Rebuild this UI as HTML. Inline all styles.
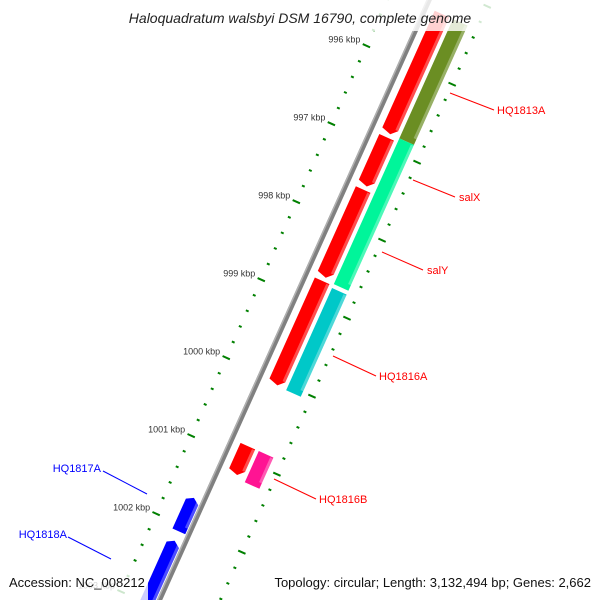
<!DOCTYPE html>
<html><head><meta charset="utf-8"><style>
html,body{margin:0;background:#fff;overflow:hidden;width:600px;height:600px}
svg{display:block;overflow:hidden;font-family:"Liberation Sans","DejaVu Sans",sans-serif}
</style></head><body>
<svg id="map" width="600" height="600" viewBox="0 0 600 600">
<g id="rot" transform="translate(433,0) rotate(24.2)"></g>
<g id="over"></g>
</svg>
<script>
// data
const tickKbp=[995,996,997,998,999,1000,1001,1002,1003];
const tickLabels=["995 kbp","996 kbp","997 kbp","998 kbp","999 kbp","1000 kbp","1001 kbp","1002 kbp","1003 kbp"];
const geneNames=["HQ1813A-r","g2","g3","g4","g5","HQ1813A","salX","HQ1816A","HQ1816B","HQ1817A","HQ1818A"];
const geneStart=[995.3,996.88,997.55,998.72,1000.84,995.3,996.83,998.75,1000.84,1001.65,1002.2];
const geneEnd=[996.83,997.5,998.67,1000.05,1001.2,996.83,998.7,1000.06,1001.24,1002.08,1003.2];
const geneTrack=[1,1,1,1,1,2,2,2,2,-1,-1];
const geneStrand=[1,1,1,1,1,0,0,0,0,-1,-1];
const geneColors=["#ff0000","#ff0000","#ff0000","#ff0000","#ff0000","#6b8e23","#00f59a","#00c8c8","#ff1493","#0000ff","#0000ff"];

const NS="http://www.w3.org/2000/svg";
const G=document.getElementById('rot');
function S(k){return 69+(k-996)*85.5;}
function mk(tag,attrs,parent){const e=document.createElementNS(NS,tag);for(const a in attrs)e.setAttribute(a,attrs[a]);(parent||G).appendChild(e);return e;}
const th=24.2*Math.PI/180;
function scr(k,n){const s=S(k);return [433+n*Math.cos(th)-s*Math.sin(th), n*Math.sin(th)+s*Math.cos(th)];}

let bb=mk('rect',{x:-6,y:-60,width:5,height:740,fill:'#808080'});


let bb2=mk('rect',{x:-6,y:-60,width:1.5,height:740,fill:'#b0b0b0'});



for(let k=994;k<=1004.01;k+=0.2){
  const kk=Math.round(k*5)/5;
  const major=Math.abs(kk-Math.round(kk))<0.01;
  [-42,52].forEach(n=>{
    const r=mk('rect',{x:major?n-4:n-1.5,y:S(kk)-1,width:major?8:3,height:2,fill:'#008000'});
    
    
  });
}
const trackX={1:[6,22],2:[26,42],'-1':[-21,-7]};
geneStart.forEach((st,i)=>{
  const [x0,x1]=trackX[geneTrack[i]];
  const y0=S(st),y1=S(geneEnd[i]);
  let pts;
  if(geneStrand[i]===1){pts=[[x0,y0],[x1,y0],[x1,y1-6],[(x0+x1)/2+2,y1],[x0,y1-3]];}
  else if(geneStrand[i]===-1){pts=[[x0,y1],[x0,y0+4],[(x0+x1)/2,y0],[x1,y0+5],[x1,y1]];}
  else{pts=[[x0,y0],[x1,y0],[x1,y1],[x0,y1]];}
  const p=mk('polygon',{points:pts.map(q=>q.join(',')).join(' '),fill:geneColors[i]});
  
  
  const sh=mk('rect',{x:x1-3,y:y0+1,width:3,height:Math.max(0,y1-y0-7),fill:'#ffffff',opacity:0.3});
  
  
});

const O=document.getElementById('over');
tickKbp.forEach((k,i)=>{
  const [x,y]=scr(k,-42);
  const t=mk('text',{x:x-6,y:y-3,'font-size':9,'text-anchor':'end',fill:'#333'},O);
  t.textContent=tickLabels[i];
  
  
});
const labels=[["HQ1813A",450,93,494,110,497,114,"#ff0000","start"],["salX",413,180,455,197,459,201,"#ff0000","start"],["salY",382,252,423,270,427,274,"#ff0000","start"],["HQ1816A",333,356,376,376,379,380,"#ff0000","start"],["HQ1816B",274,479,316,499,319,503,"#ff0000","start"],["HQ1817A",147,494,103,471,101,472,"#0000ff","end"],["HQ1818A",111,559,68,537,67,538,"#0000ff","end"]];
labels.forEach(l=>{
  const ln=mk('line',{x1:l[1],y1:l[2],x2:l[3],y2:l[4],stroke:l[7],'stroke-width':1},O);
  
  
  const t=mk('text',{x:l[5],y:l[6],'font-size':11,'text-anchor':l[8],fill:l[7]},O);
  t.textContent=l[0];
  
  
});
let r=mk('rect',{x:0,y:0,width:600,height:31,fill:'#fff',opacity:0.82},O);

let t=mk('text',{x:300,y:23,'font-size':14,'font-style':'italic','text-anchor':'middle',fill:'#222'},O);
t.textContent='Haloquadratum walsbyi DSM 16790, complete genome';

r=mk('rect',{x:3,y:572,width:145,height:28,fill:'#fff',opacity:0.8},O);

r=mk('rect',{x:258,y:572,width:342,height:28,fill:'#fff',opacity:0.8},O);

t=mk('text',{x:9,y:587,'font-size':13,fill:'#111'},O);
t.textContent='Accession: NC_008212';

t=mk('text',{x:591,y:587,'font-size':13,'text-anchor':'end',fill:'#111'},O);
t.textContent='Topology: circular; Length: 3,132,494 bp; Genes: 2,662';

</script>
</body></html>
